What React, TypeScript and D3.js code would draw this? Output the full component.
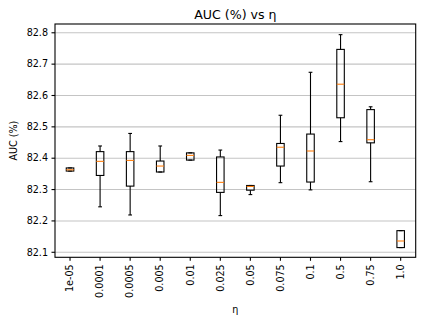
import React from "react";
import * as d3 from "d3";

// eta values on the x axis
const etas = ["1e-05", "0.0001", "0.0005", "0.005", "0.01", "0.025", "0.05", "0.075", "0.1", "0.5", "0.75", "1.0"];

// box stats (AUC %)
const whiskerLow = [82.359, 82.245, 82.219, 82.356, 82.394, 82.217, 82.284, 82.322, 82.299, 82.453, 82.325, 82.115];
const q1 = [82.359, 82.345, 82.311, 82.356, 82.394, 82.291, 82.298, 82.375, 82.324, 82.529, 82.449, 82.115];
const medians = [82.363, 82.390, 82.393, 82.375, 82.409, 82.323, 82.310, 82.435, 82.423, 82.636, 82.459, 82.136];
const q3 = [82.369, 82.421, 82.421, 82.391, 82.417, 82.404, 82.313, 82.447, 82.477, 82.747, 82.555, 82.169];
const whiskerHigh = [82.369, 82.439, 82.479, 82.439, 82.417, 82.426, 82.313, 82.537, 82.674, 82.794, 82.564, 82.169];

const yTicks = [82.1, 82.2, 82.3, 82.4, 82.5, 82.6, 82.7, 82.8];

const W = 423;
const H = 326;
const margin = { left: 55, right: 7.3, top: 24, bottom: 68.7 };
const font = "DejaVu Sans, sans-serif";

const App = () => {
  const innerW = W - margin.left - margin.right;
  const innerH = H - margin.top - margin.bottom;

  // positions 1..n, like matplotlib boxplot
  const x = d3.scaleLinear().domain([0.5, etas.length + 0.5]).range([0, innerW]);
  const y = d3.scaleLinear().domain([82.084, 82.828]).range([innerH, 0]);

  const boxW = x(1.25) - x(1);
  const capW = boxW / 2;
  const lw = 1.1;

  return (
    <svg width={W} height={H} style={{ position: "absolute", left: 0, top: 0, background: "#fff" }}>
      <text x={margin.left + innerW / 2} y={19} textAnchor="middle" fontFamily={font} fontSize={12.6}>
        AUC (%) vs η
      </text>
      <g transform={`translate(${margin.left},${margin.top})`}>
        {/* grid */}
        {yTicks.map((t) => (
          <line key={"g" + t} x1={0} x2={innerW} y1={y(t)} y2={y(t)} stroke="#b0b0b0" strokeOpacity={0.75} strokeWidth={1.1} />
        ))}
        {/* boxes */}
        {etas.map((e, i) => {
          const cx = x(i + 1);
          return (
            <g key={e} fill="none" stroke="#000" strokeWidth={lw}>
              <line x1={cx} x2={cx} y1={y(q3[i])} y2={y(whiskerHigh[i])} />
              <line x1={cx} x2={cx} y1={y(q1[i])} y2={y(whiskerLow[i])} />
              <line x1={cx - capW / 2} x2={cx + capW / 2} y1={y(whiskerHigh[i])} y2={y(whiskerHigh[i])} />
              <line x1={cx - capW / 2} x2={cx + capW / 2} y1={y(whiskerLow[i])} y2={y(whiskerLow[i])} />
              <rect x={cx - boxW / 2} y={y(q3[i])} width={boxW} height={Math.max(0, y(q1[i]) - y(q3[i]))} />
              <line x1={cx - boxW / 2} x2={cx + boxW / 2} y1={y(medians[i])} y2={y(medians[i])} stroke="#ff7f0e" />
            </g>
          );
        })}
        {/* frame */}
        <rect x={0} y={0} width={innerW} height={innerH} fill="none" stroke="#000" strokeWidth={lw} />
        {/* y axis */}
        {yTicks.map((t) => (
          <g key={"y" + t} transform={`translate(0,${y(t)})`}>
            <line x1={-3.5} x2={0} stroke="#000" strokeWidth={lw} />
            <text x={-7} dy="0.34em" textAnchor="end" fontFamily={font} fontSize={9.6}>
              {d3.format(".1f")(t)}
            </text>
          </g>
        ))}
        {/* x axis */}
        {etas.map((e, i) => (
          <g key={"x" + e} transform={`translate(${x(i + 1)},${innerH})`}>
            <line y1={0} y2={3.5} stroke="#000" strokeWidth={lw} />
            <text transform="translate(0,7) rotate(-90)" dy="0.34em" textAnchor="end" fontFamily={font} fontSize={9.6}>
              {e}
            </text>
          </g>
        ))}
      </g>
      <text x={margin.left + innerW / 2} y={313} textAnchor="middle" fontFamily={font} fontSize={9.6}>
        η
      </text>
      <text transform={`translate(16.5,${margin.top + innerH / 2}) rotate(-90)`} textAnchor="middle" fontFamily={font} fontSize={9.6}>
        AUC (%)
      </text>
    </svg>
  );
};

export default App;
